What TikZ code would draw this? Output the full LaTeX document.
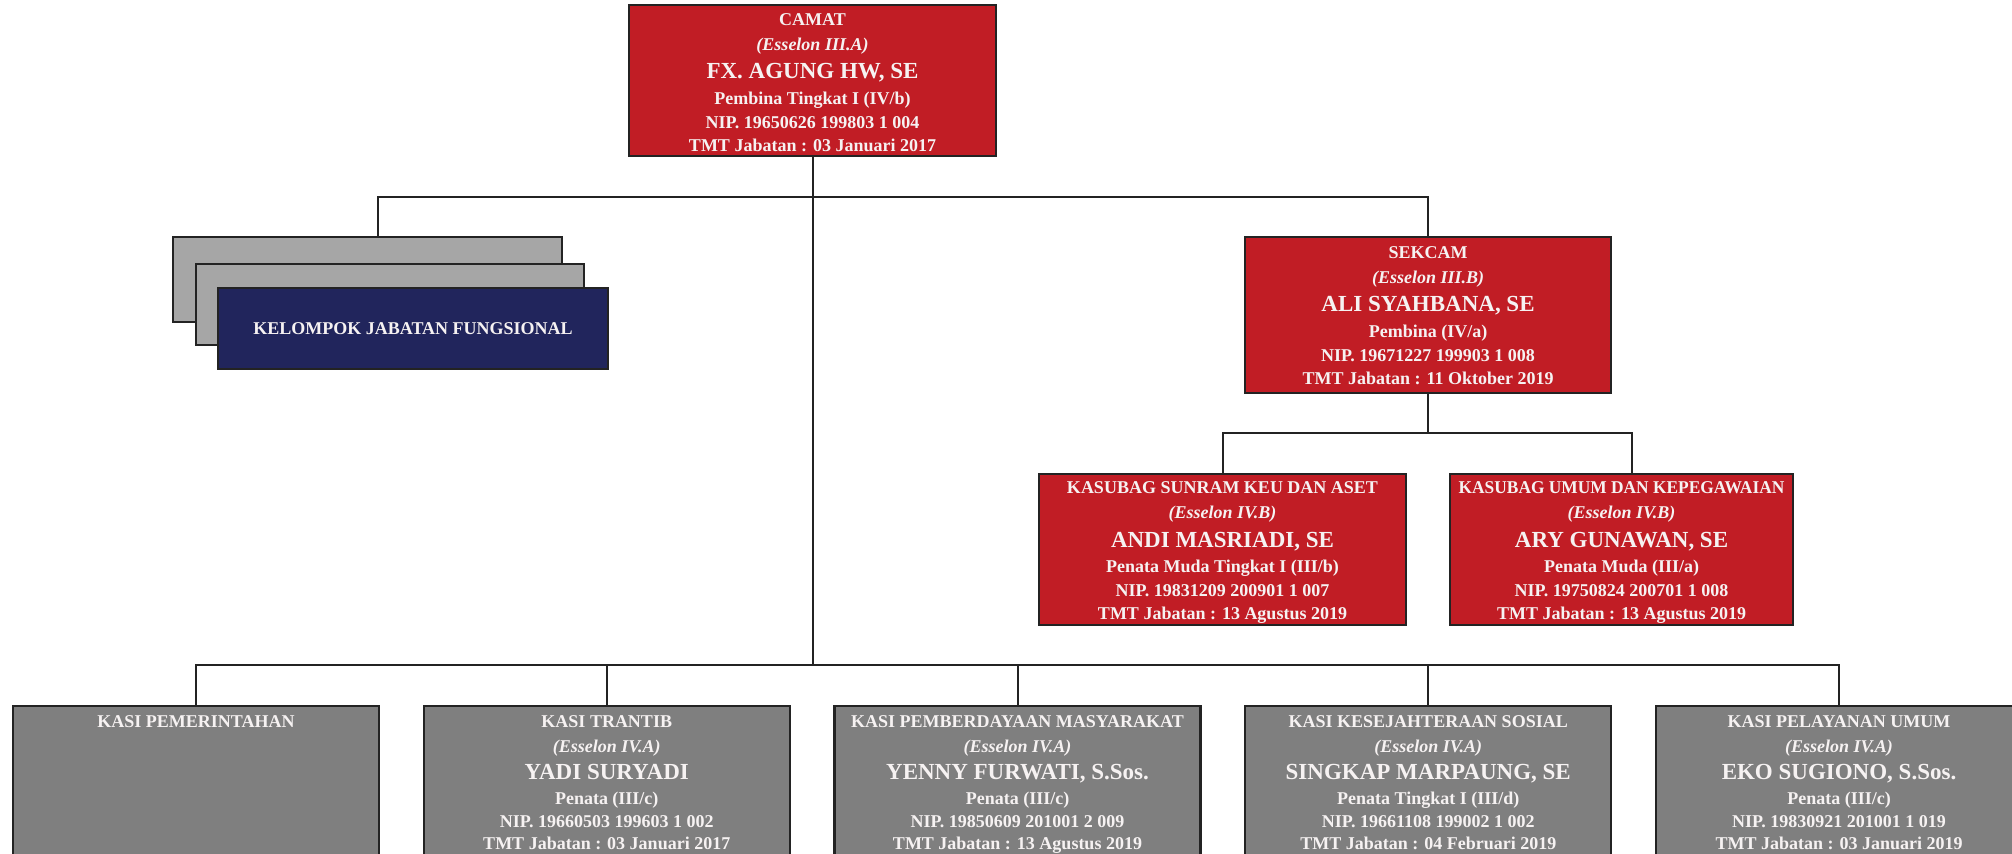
\documentclass[tikz,border=0pt]{standalone}
\usepackage{fontspec}
\setmainfont{Liberation Serif}
\definecolor{cred}{RGB}{193,29,37}
\definecolor{cgray}{RGB}{127,127,127}
\definecolor{clight}{RGB}{166,166,166}
\definecolor{cnavy}{RGB}{33,37,92}
\definecolor{cedge}{RGB}{35,35,35}
\definecolor{ctext}{RGB}{246,242,242}
\newcommand\persontext[6]{\begin{tabular}{@{}c@{}}#1\\[1pt]\textit{#2}\\[2.75pt]{\fontsize{11.5}{13}\selectfont #3}\\[1.25pt]#4\\[0.5pt]#5\\#6\end{tabular}}
\newcommand\kasitext[6]{\begin{tabular}{@{}c@{}}#1\\[1pt]\textit{#2}\\[2.25pt]{\fontsize{11.5}{13}\selectfont #3}\\[1pt]#4\\[0pt]#5\\[-0.5pt]#6\end{tabular}}
\tikzset{
  boxbase/.style={draw=cedge, line width=1.2pt, inner sep=0pt},
  redbox/.style={boxbase, fill=cred},
  graybox/.style={boxbase, fill=cgray},
  lightbox/.style={boxbase, fill=clight},
  navybox/.style={boxbase, fill=cnavy},
  txt/.style={text=ctext, font=\bfseries\fontsize{9}{11.5}\selectfont, inner sep=0pt, anchor=north},
  conn/.style={draw=cedge, line width=1pt}
}
\begin{document}
\begin{tikzpicture}[x=0.5pt,y=-0.5pt]
\useasboundingbox (0,0) rectangle (2012,854);
\clip (0,0) rectangle (2012,854);
\fill[white] (0,0) rectangle (2012,854);
% bus coordinates
\coordinate (busA) at (0,197);
\coordinate (busK) at (0,433);
\coordinate (busB) at (0,665);
% boxes
\node[redbox, minimum width=183.5pt, minimum height=75.5pt] (camat) at (812.5,80.5) {};
\node[lightbox, minimum width=194.5pt, minimum height=42.5pt] (fung1) at (367.5,279.5) {};
\node[lightbox, minimum width=194pt, minimum height=40.5pt] (fung2) at (390,304.5) {};
\node[navybox, minimum width=195pt, minimum height=40.5pt, text=ctext, font=\bfseries\fontsize{9}{11.5}\selectfont] (fung3) at (413,328.5) {KELOMPOK JABATAN FUNGSIONAL};
\node[redbox, minimum width=183pt, minimum height=78pt] (sekcam) at (1428,315) {};
\node[redbox, minimum width=183.5pt, minimum height=75.5pt] (sunram) at (1222.5,549.5) {};
\node[redbox, minimum width=171.5pt, minimum height=75.5pt] (umum) at (1621.5,549.5) {};
\node[graybox, minimum width=183pt, minimum height=97pt] (kasi1) at (196,803) {};
\node[graybox, minimum width=183pt, minimum height=97pt] (kasi2) at (606.75,803) {};
\node[graybox, minimum width=183pt, minimum height=97pt] (kasi3) at (1017.5,803) {};
\node[graybox, minimum width=183pt, minimum height=97pt] (kasi4) at (1428.25,803) {};
\node[graybox, minimum width=183pt, minimum height=97pt] (kasi5) at (1839,803) {};
% connectors
\draw[conn] (camat.south) -- (camat.south |- busB);
\draw[conn] ([xshift=5.25pt]fung1.north) |- (sekcam.north |- busA) -- (sekcam.north);
\draw[conn] (sekcam.south) -- (sekcam.south |- busK);
\draw[conn] (sunram.north) |- ([xshift=5.25pt]umum.north |- busK) -- ([xshift=5.25pt]umum.north);
\draw[conn] (kasi1.north) |- (kasi5.north |- busB) -- (kasi5.north);
\foreach \k in {2,3,4} \draw[conn] (kasi\k.north) -- (kasi\k.north |- busB);
% texts
\node[txt] (camat-t) at ([yshift=-2.45pt]camat.north) {\persontext{CAMAT}{(Esselon III.A)}{FX. AGUNG HW, SE}{Pembina Tingkat I (IV/b)}{NIP. 19650626 199803 1 004}{TMT Jabatan : 03 Januari 2017}};
\node[txt] (sekcam-t) at ([yshift=-3pt]sekcam.north) {\persontext{SEKCAM}{(Esselon III.B)}{ALI SYAHBANA, SE}{Pembina (IV/a)}{NIP. 19671227 199903 1 008}{TMT Jabatan : 11 Oktober 2019}};
\node[txt] (sunram-t) at ([yshift=-2.2pt]sunram.north) {\persontext{KASUBAG SUNRAM KEU DAN ASET}{(Esselon IV.B)}{ANDI MASRIADI, SE}{Penata Muda Tingkat I (III/b)}{NIP. 19831209 200901 1 007}{TMT Jabatan : 13 Agustus 2019}};
\node[txt] (umum-t) at ([yshift=-2.2pt]umum.north) {\persontext{\scalebox{0.965}[1]{KASUBAG UMUM DAN KEPEGAWAIAN}}{(Esselon IV.B)}{ARY GUNAWAN, SE}{Penata Muda (III/a)}{NIP. 19750824 200701 1 008}{TMT Jabatan : 13 Agustus 2019}};
\node[txt] (kasi1-t) at ([yshift=-3pt]kasi1.north) {\begin{tabular}{@{}c@{}}KASI PEMERINTAHAN\end{tabular}};
\node[txt] (kasi2-t) at ([yshift=-3pt]kasi2.north) {\kasitext{KASI TRANTIB}{(Esselon IV.A)}{YADI SURYADI}{Penata (III/c)}{NIP. 19660503 199603 1 002}{TMT Jabatan : 03 Januari 2017}};
\node[txt] (kasi3-t) at ([yshift=-3pt]kasi3.north) {\kasitext{KASI PEMBERDAYAAN MASYARAKAT}{(Esselon IV.A)}{YENNY FURWATI, S.Sos.}{Penata (III/c)}{NIP. 19850609 201001 2 009}{TMT Jabatan : 13 Agustus 2019}};
\node[txt] (kasi4-t) at ([yshift=-3pt]kasi4.north) {\kasitext{KASI KESEJAHTERAAN SOSIAL}{(Esselon IV.A)}{SINGKAP MARPAUNG, SE}{Penata Tingkat I (III/d)}{NIP. 19661108 199002 1 002}{TMT Jabatan : 04 Februari 2019}};
\node[txt] (kasi5-t) at ([yshift=-3pt]kasi5.north) {\kasitext{KASI PELAYANAN UMUM}{(Esselon IV.A)}{EKO SUGIONO, S.Sos.}{Penata (III/c)}{NIP. 19830921 201001 1 019}{TMT Jabatan : 03 Januari 2019}};
\end{tikzpicture}
\end{document}
